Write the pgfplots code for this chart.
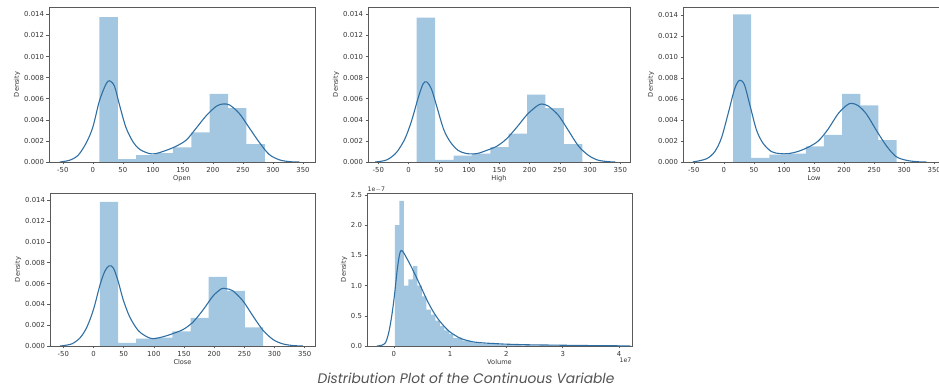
\documentclass[border=0pt]{standalone}
\usepackage{fontspec}
\setmainfont{DejaVu Sans}
\newfontfamily\capfont{Poppins}
\usepackage{pgfplots}
\pgfplotsset{compat=1.18}
\definecolor{barc}{HTML}{A3C7E0}
\definecolor{linec}{HTML}{2F6FA3}
\definecolor{spine}{HTML}{5A5A5A}
\definecolor{txt}{HTML}{333333}
\pgfplotsset{
  distax/.style={
    scale only axis,
    anchor=south west,
    axis line style={spine, line width=0.7pt},
    tick style={spine, line width=0.5pt},
    tick align=outside,
    major tick length=2.5pt,
    xtick pos=bottom, ytick pos=left,
    ymin=0,
    tick label style={font=\fontsize{6.9}{7}\selectfont, text=txt},
    label style={font=\fontsize{6.6}{7}\selectfont, text=txt},
    /pgf/number format/assume math mode=true,
    scaled y ticks=false, scaled x ticks=false,
    ylabel={Density},
    ylabel style={yshift=-3pt},
    xlabel style={yshift=3.5pt},
    xticklabel style={yshift=1pt},
    yticklabel style={xshift=1pt},
  },
  priceax/.style={
    distax,
    xtick={-50,0,50,100,150,200,250,300,350},
    ytick={0,0.002,0.004,0.006,0.008,0.010,0.012,0.014},
    yticklabel style={/pgf/number format/.cd, fixed, fixed zerofill, precision=3},
  },
  hist/.style={ybar interval, fill=barc, draw=none},
  kde/.style={linec, line width=1.1pt, smooth, no marks},
}
\begin{document}
\begin{tikzpicture}
\useasboundingbox (0,0) rectangle (939pt,387pt);
% Open
\begin{axis}[priceax, at={(49pt,225pt)}, width=266pt, height=155pt,
  xmin=-73, xmax=370, ymax=0.0147, xlabel={Open}]
\addplot[hist] coordinates {(11,0.01375) (41.6,0.00028) (72.2,0.00066) (102.8,0.00084) (133.4,0.00138) (164,0.0028) (194.6,0.00647) (225.2,0.0051) (255.8,0.0017) (286.4,0)};
\addplot[kde] coordinates {(-55,0) (-39,0.00016) (-25,0.0006) (-11,0.0018) (0,0.0033) (11,0.0058) (22,0.0074) (28,0.0077) (36,0.0072) (44,0.0055) (55,0.0033) (67,0.0019) (78,0.0012) (94,0.0008) (105,0.0008) (122,0.0011) (139,0.0015) (156,0.0021) (172,0.0032) (189,0.0044) (206,0.0053) (217,0.0055) (228,0.0054) (244,0.0046) (261,0.0032) (278,0.0018) (294,0.0007) (311,0.0002) (328,0.00003) (344,0)};
\end{axis}
% High
\begin{axis}[priceax, at={(368pt,225pt)}, width=262pt, height=155pt,
  xmin=-67, xmax=366, ymax=0.0147, xlabel={High}]
\addplot[hist] coordinates {(13.5,0.0137) (43.9,0.0002) (74.3,0.0006) (104.7,0.0008) (135.1,0.0014) (165.5,0.0027) (195.9,0.0064) (226.3,0.0051) (256.7,0.0017) (287.1,0)};
\addplot[kde] coordinates {(-55,0) (-36,0.0002) (-20,0.0009) (-6,0.0022) (5,0.0039) (16,0.0061) (24,0.0074) (30,0.0076) (38,0.0069) (47,0.0052) (58,0.0031) (69,0.0019) (82,0.0011) (96,0.0008) (113,0.0008) (129,0.0011) (146,0.0015) (162,0.0022) (179,0.0033) (196,0.0045) (212,0.0053) (220,0.0055) (231,0.0053) (248,0.0044) (264,0.003) (281,0.0015) (298,0.0006) (314,0.00016) (333,0.00002) (342,0)};
\end{axis}
% Low
\begin{axis}[priceax, at={(683pt,225pt)}, width=262pt, height=155pt,
  xmin=-68, xmax=368, ymax=0.0148, xlabel={Low}]
\addplot[hist] coordinates {(15.3,0.0141) (45.5,0.0004) (75.8,0.0007) (106.0,0.0008) (136.3,0.0015) (166.5,0.0026) (196.7,0.0065) (227.0,0.0054) (257.2,0.0021) (287.5,0)};
\addplot[kde] coordinates {(-52,0) (-29,0.0003) (-15,0.001) (-4,0.0023) (7,0.0046) (18,0.007) (26,0.0078) (34,0.0074) (43,0.0055) (54,0.0031) (65,0.0018) (79,0.001) (93,0.0008) (107,0.0008) (123,0.001) (140,0.0014) (157,0.002) (173,0.0031) (190,0.0046) (204,0.0054) (212,0.0056) (223,0.0054) (237,0.0046) (254,0.003) (271,0.0015) (287,0.0005) (304,0.00016) (321,0.00003) (337,0)};
\end{axis}
% Close
\begin{axis}[priceax, at={(50pt,41pt)}, width=265pt, height=153pt,
  xmin=-72, xmax=367, ymax=0.0147, xlabel={Close}]
\addplot[hist] coordinates {(10.7,0.01385) (40.7,0.0003) (70.8,0.0007) (100.8,0.0008) (130.8,0.0014) (160.9,0.0027) (190.9,0.00665) (220.9,0.0053) (250.9,0.0018) (281.0,0)};
\addplot[kde] coordinates {(-55,0) (-36,0.0002) (-22,0.0008) (-11,0.0018) (0,0.0035) (11,0.0059) (19,0.0072) (26,0.0077) (33,0.0075) (41,0.0062) (49,0.0045) (60,0.0028) (74,0.0015) (88,0.0009) (99,0.0007) (116,0.0009) (132,0.0012) (149,0.0016) (165,0.0023) (182,0.0035) (198,0.0048) (212,0.0055) (220,0.0055) (231,0.0053) (248,0.0043) (264,0.0029) (281,0.0015) (298,0.0006) (314,0.0002) (331,0.00004) (347,0)};
\end{axis}
% Volume (x in units of 1e7, density in units of 1e-7)
\begin{axis}[distax, at={(367pt,41pt)}, width=265pt, height=153pt,
  xmin=-0.475, xmax=4.23, ymax=2.53, xlabel={Volume},
  xtick={0,1,2,3,4}, ytick={0,0.5,1,1.5,2,2.5},
  yticklabel style={/pgf/number format/.cd, fixed, fixed zerofill, precision=1},
  clip=false]
\addplot[hist] coordinates {(0.02,2.0) (0.10,2.4) (0.18,1.0) (0.26,1.1) (0.34,1.32) (0.42,1.0) (0.50,0.82) (0.58,0.6) (0.66,0.52) (0.74,0.42) (0.82,0.33) (0.90,0.26) (0.98,0.2) (1.06,0.13) (1.14,0.14) (1.22,0.09) (1.30,0.08) (1.38,0.06) (1.46,0.05) (1.54,0.04) (1.62,0.035) (1.70,0.03) (1.78,0.03) (1.86,0.025) (1.94,0.02) (2.02,0.02) (2.10,0.015) (2.18,0.015) (2.26,0.01) (2.34,0.015) (2.42,0.01) (2.50,0.01) (2.58,0.01) (2.66,0.005) (2.74,0.01) (2.82,0.005) (2.90,0.005) (2.98,0.005) (3.06,0.005) (3.14,0) (3.22,0.005) (3.30,0) (3.38,0.005) (3.46,0) (3.54,0) (3.62,0) (3.70,0) (3.78,0) (3.86,0) (3.94,0.005) (4.02,0)};
\addplot[kde] coordinates {(-0.3,0) (-0.22,0.01) (-0.15,0.05) (-0.1,0.18) (-0.06,0.36) (-0.02,0.6) (0.02,0.9) (0.06,1.25) (0.1,1.5) (0.13,1.58) (0.17,1.55) (0.22,1.47) (0.3,1.33) (0.4,1.14) (0.5,0.94) (0.6,0.74) (0.7,0.57) (0.8,0.43) (0.9,0.32) (1.0,0.23) (1.1,0.17) (1.2,0.12) (1.4,0.07) (1.6,0.05) (1.8,0.04) (2.0,0.03) (2.4,0.02) (2.8,0.015) (3.2,0.01) (3.6,0.006) (4.0,0.003) (4.2,0.001)};
\node[font=\fontsize{6.2}{7}\selectfont, text=txt, anchor=south west, inner sep=0.5pt] at (rel axis cs:0,1) {1e$-$7};
\node[font=\fontsize{6.2}{7}\selectfont, text=txt, anchor=north east, inner sep=0.5pt] at ([yshift=-11pt]rel axis cs:1,0) {1e7};
\end{axis}
\node[font=\capfont\itshape\fontsize{13.8}{15}\selectfont, text=black!68, anchor=center] at (466pt,9pt) {Distribution Plot of the Continuous Variable};
\end{tikzpicture}
\end{document}
